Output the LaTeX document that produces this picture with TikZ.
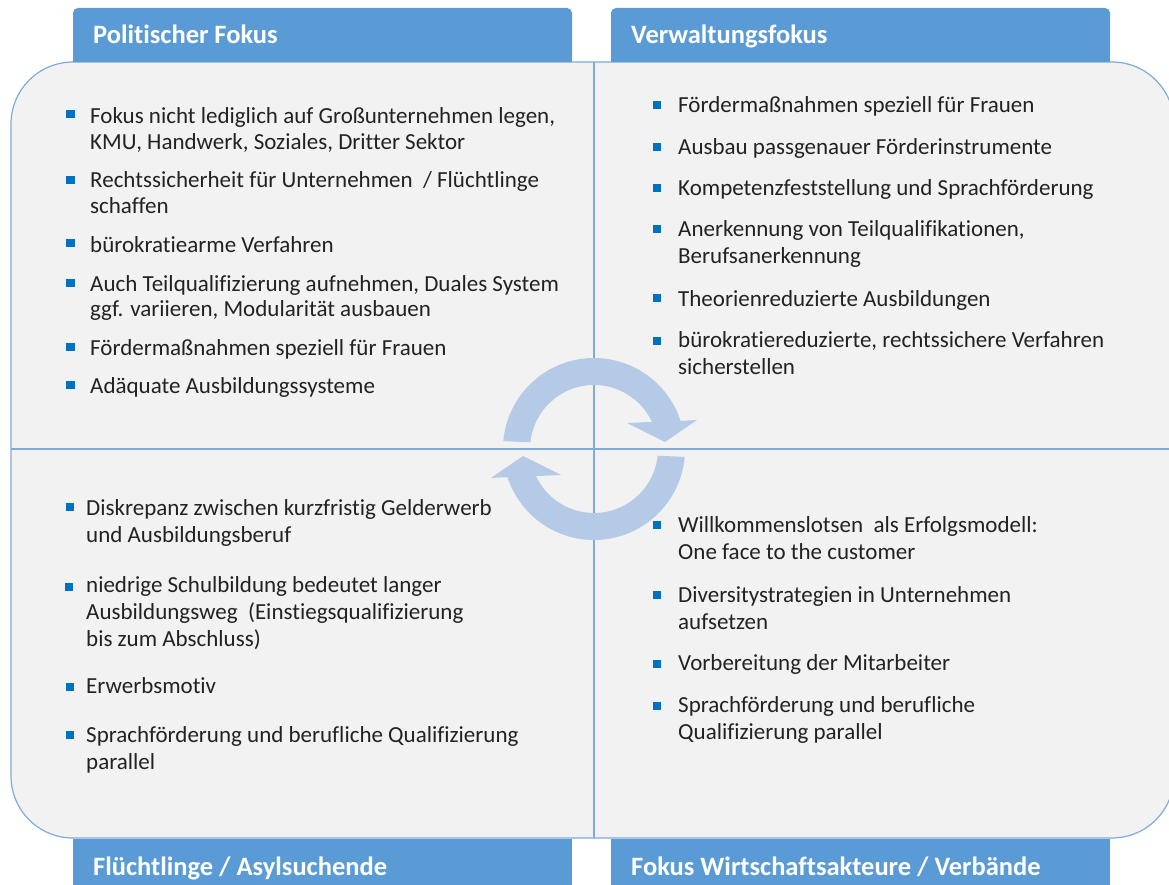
\documentclass[tikz,border=0pt]{standalone}
\usepackage{fontspec}
\setmainfont{Carlito}[Ligatures=NoCommon]
\definecolor{boxfill}{HTML}{F2F2F2}
\definecolor{boxline}{HTML}{7FAADC}
\definecolor{hdrcol}{HTML}{5B9BD5}
\definecolor{arrcol}{HTML}{B4CAE7}
\definecolor{bulcol}{HTML}{0070C0}
\definecolor{txtcol}{HTML}{222222}
\tikzset{
  hdrtext/.style={inner sep=0pt, text=white, font=\fontsize{26.5}{30}\selectfont\bfseries},
  bul/.style={fill=bulcol, inner sep=0pt, minimum size=8.5pt, draw=none},
  itemtext/.style={inner sep=0pt, text=txtcol, font=\fontsize{23}{27}\selectfont},
  tighttext/.style={inner sep=0pt, text=txtcol, font=\fontsize{23}{25.5}\selectfont},
  divline/.style={draw=boxline, line width=1.3pt},
}
\begin{document}
\begin{tikzpicture}[x=1pt,y=-1pt]
\useasboundingbox (0,0) rectangle (1169,885);
\clip (0,0) rectangle (1169,885);
% main box
\draw[draw=boxline, line width=1.2pt, fill=boxfill, rounded corners=62pt]
  (300,62) -- (1174,62) -- (1174,838) -- (11,838) -- (11,62) -- cycle;
% dividers
\draw[divline] (594,62) -- (594,838);
\draw[divline] (11,449) -- (1174,449);
% headers
\fill[hdrcol, rounded corners=5pt] (73,8) rectangle (572,62);
\fill[hdrcol] (73,30) rectangle (572,62);
\fill[hdrcol, rounded corners=5pt] (611,8) rectangle (1110,62);
\fill[hdrcol] (611,30) rectangle (1110,62);
\fill[hdrcol] (73,839) rectangle (572,890);
\fill[hdrcol] (611,839) rectangle (1110,890);
\node[hdrtext, anchor=base west] (h1) at (93,44) {Politischer Fokus};
\node[hdrtext, anchor=base west] (h2) at (631,44) {Verwaltungsfokus};
\node[hdrtext, anchor=base west] (h3) at (93,875) {Flüchtlinge / Asylsuchende};
\node[hdrtext, anchor=base west] (h4) at (631,875) {Fokus Wirtschaftsakteure / Verbände};
% circular arrows
\begin{scope}[shift={(594,449)}, yscale=-1]
  \fill[arrcol] (175:91) arc[start angle=175, end angle=18, radius=91]
    -- (103,29) -- (71,7) -- (33,26) -- (25:64)
    arc[start angle=25, end angle=174, radius=64] -- cycle;
  \begin{scope}[rotate=180]
  \fill[arrcol] (175:91) arc[start angle=175, end angle=18, radius=91]
    -- (103,29) -- (71,7) -- (33,26) -- (25:64)
    arc[start angle=25, end angle=174, radius=64] -- cycle;
  \end{scope}
\end{scope}
% top-left items
\node[bul] (a1b) at (70.5,114) {};
\node[tighttext, anchor=base west] (a1) at (90,124) {\vtop{\hbox{Fokus nicht lediglich auf Großunternehmen legen,}\hbox{KMU, Handwerk, Soziales, Dritter Sektor}}};
\node[bul] (a2b) at (70.5,180) {};
\node[tighttext, anchor=base west] (a2) at (90,188) {\vtop{\hbox{Rechtssicherheit für Unternehmen\ \ / Flüchtlinge}\hbox{schaffen}}};
\node[bul] (a3b) at (70.5,243) {};
\node[tighttext, anchor=base west] (a3) at (90,252) {bürokratiearme Verfahren};
\node[bul] (a4b) at (70.5,283) {};
\node[tighttext, anchor=base west] (a4) at (90,291) {\vtop{\hbox{Auch Teilqualifizierung aufnehmen, Duales System}\hbox{ggf. variieren, Modularität ausbauen}}};
\node[bul] (a5b) at (70.5,347) {};
\node[tighttext, anchor=base west] (a5) at (90,355) {Fördermaßnahmen speziell für Frauen};
\node[bul] (a6b) at (70.5,385) {};
\node[tighttext, anchor=base west] (a6) at (90,393) {Adäquate Ausbildungssysteme};
% top-right items
\node[bul] (c1b) at (657,105) {};
\node[itemtext, anchor=base west] (c1) at (678,113) {Fördermaßnahmen speziell für Frauen};
\node[bul] (c2b) at (657,147) {};
\node[itemtext, anchor=base west] (c2) at (678,155) {Ausbau passgenauer Förderinstrumente};
\node[bul] (c3b) at (657,188) {};
\node[itemtext, anchor=base west] (c3) at (678,196) {Kompetenzfeststellung und Sprachförderung};
\node[bul] (c4b) at (657,229) {};
\node[itemtext, anchor=base west] (c4) at (678,237) {\vtop{\hbox{Anerkennung von Teilqualifikationen,}\hbox{Berufsanerkennung}}};
\node[bul] (c5b) at (657,298) {};
\node[itemtext, anchor=base west] (c5) at (678,306) {Theorienreduzierte Ausbildungen};
\node[bul] (c6b) at (657,341) {};
\node[itemtext, anchor=base west] (c6) at (678,347) {\vtop{\hbox{bürokratiereduzierte, rechtssichere Verfahren}\hbox{sicherstellen}}};
% bottom-left items
\node[bul] (d1b) at (70,507) {};
\node[itemtext, anchor=base west] (d1) at (86,515) {\vtop{\hbox{Diskrepanz zwischen kurzfristig Gelderwerb}\hbox{und Ausbildungsberuf}}};
\node[bul] (d2b) at (69,587) {};
\node[itemtext, anchor=base west] (d2) at (86,592) {\vtop{\hbox{niedrige Schulbildung bedeutet langer}\hbox{Ausbildungsweg\ \ (Einstiegsqualifizierung}\hbox{bis zum Abschluss)}}};
\node[bul] (d3b) at (70,687) {};
\node[itemtext, anchor=base west] (d3) at (86,693) {Erwerbsmotiv};
\node[bul] (d4b) at (70,735) {};
\node[itemtext, anchor=base west] (d4) at (86,742) {\vtop{\hbox{Sprachförderung und berufliche Qualifizierung}\hbox{parallel}}};
% bottom-right items
\node[bul] (e1b) at (657,525) {};
\node[itemtext, anchor=base west] (e1) at (678,532) {\vtop{\hbox{Willkommenslotsen\ \ als Erfolgsmodell:}\hbox{One face to the customer}}};
\node[bul] (e2b) at (657,595) {};
\node[itemtext, anchor=base west] (e2) at (678,602) {\vtop{\hbox{Diversitystrategien in Unternehmen}\hbox{aufsetzen}}};
\node[bul] (e3b) at (657,664) {};
\node[itemtext, anchor=base west] (e3) at (678,670) {Vorbereitung der Mitarbeiter};
\node[bul] (e4b) at (657,706) {};
\node[itemtext, anchor=base west] (e4) at (678,712) {\vtop{\hbox{Sprachförderung und berufliche}\hbox{Qualifizierung parallel}}};
\end{tikzpicture}
\end{document}
